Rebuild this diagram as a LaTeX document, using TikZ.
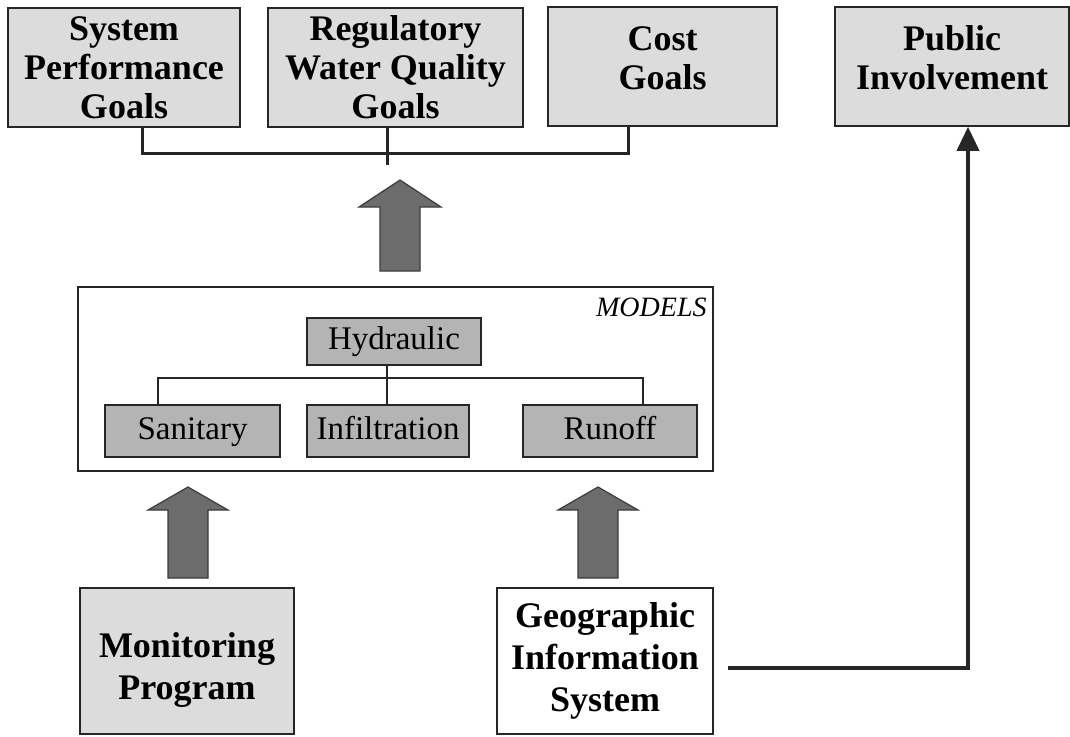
\documentclass[tikz,border=0pt]{standalone}
\usepackage{fontspec}
\setmainfont{Liberation Serif}
\usetikzlibrary{arrows.meta}
\definecolor{goalfill}{HTML}{DCDCDC}
\definecolor{modfill}{HTML}{B4B4B4}
\definecolor{arrfill}{HTML}{6C6C6C}
\definecolor{arredge}{HTML}{3C3C3C}
\begin{document}
\begin{tikzpicture}[x=1pt,y=-1pt,
  goalbox/.style={draw=black!85, line width=1.6pt, fill=goalfill, align=center, inner sep=0pt,
    font=\fontsize{36}{39}\selectfont\bfseries},
  bigbox/.style={draw=black!85, line width=1.6pt, align=center, inner sep=0pt,
    font=\fontsize{36}{42}\selectfont\bfseries},
  modbox/.style={draw=black!85, line width=1.6pt, fill=modfill, inner sep=0pt,
    text height=23pt, text depth=7pt, font=\fontsize{33}{36}\selectfont},
  conn/.style={draw=black!85, line width=3pt},
  barrow/.style={fill=arrfill, draw=arredge, line width=1.2pt, line join=miter},
  pline/.style={draw=black!85, line width=3.6pt, -{Triangle[width=22pt,length=24pt]}}
]
\useasboundingbox (0,0) rectangle (1070,736);

% top goal boxes
\node[goalbox, minimum width=232pt, minimum height=119pt] (spg) at (124,67.5) {System\\Performance\\Goals};
\node[goalbox, minimum width=255pt, minimum height=119pt] (rwq) at (395.5,67.5) {Regulatory\\Water Quality\\Goals};
\node[goalbox, minimum width=229pt, minimum height=119pt, text depth=17pt] (cost) at (662.5,66.5) {Cost\\Goals};
\node[goalbox, minimum width=234pt, minimum height=119pt, text depth=17pt] (pub) at (952,66.5) {Public\\Involvement};

% bracket joining goals
\coordinate (b1) at (142,153);
\coordinate (b2) at (387,153);
\coordinate (b3) at (628,153);
\coordinate (b4) at (387,165);
\draw[conn] (spg.south -| b1) -- (b1) -- (b3) -- (cost.south -| b3);
\draw[conn] (rwq.south -| b2) -- (b4);

% models box
\node[draw=black!85, line width=1.6pt, minimum width=635pt, minimum height=184pt] (models) at (395.5,379) {};
\node[anchor=north east, inner sep=0pt, font=\fontsize{28}{30}\selectfont\itshape] (mlabel)
  at ([xshift=-7pt,yshift=-12pt]models.north east) {MODELS};

\node[modbox, minimum width=174pt, minimum height=47pt] (hyd) at (394,341.5) {Hydraulic};
\node[modbox, minimum width=175pt, minimum height=52pt] (san) at (192.5,431) {Sanitary};
\node[modbox, minimum width=162pt, minimum height=52pt] (inf) at (388,431) {Infiltration};
\node[modbox, minimum width=174pt, minimum height=52pt] (run) at (610,431) {Runoff};

\coordinate (tl) at (158,378);
\coordinate (tm) at (387,378);
\coordinate (tr) at (643,378);
\draw[conn, line width=2.6pt] (san.north -| tl) -- (tl) -- (tr) -- (run.north -| tr);
\draw[conn, line width=2.6pt] (hyd.south -| tm) -- (inf.north -| tm);

% bottom boxes
\node[bigbox, fill=goalfill, minimum width=214pt, minimum height=146pt, text depth=0pt] (mon) at (187,661) {\\[-8pt]Monitoring\\Program};
\node[bigbox, fill=white, minimum width=216pt, minimum height=146pt] (gis) at (605,661) {Geographic\\Information\\System};

% block arrows
\draw[barrow, shift={(400,271)}] (0,0) -- (20,0) -- (20,-64) -- (41,-64) -- (0,-91) -- (-41,-64) -- (-20,-64) -- (-20,0) -- cycle;
\draw[barrow, shift={(188,578)}] (0,0) -- (20,0) -- (20,-68) -- (40,-68) -- (0,-91) -- (-40,-68) -- (-20,-68) -- (-20,0) -- cycle;
\draw[barrow, shift={(598,578)}] (0,0) -- (20,0) -- (20,-68) -- (40,-68) -- (0,-91) -- (-40,-68) -- (-20,-68) -- (-20,0) -- cycle;

% GIS to public involvement
\coordinate (g1) at (728,668);
\coordinate (g2) at (968,668);
\draw[pline] (g1) -- (g2) -- (g2 |- pub.south);
\end{tikzpicture}
\end{document}
